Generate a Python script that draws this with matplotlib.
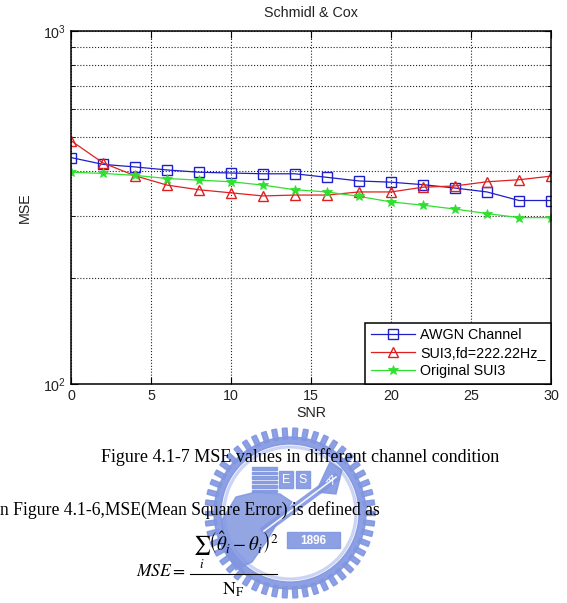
import numpy as np
import matplotlib
matplotlib.use("Agg")
import matplotlib.pyplot as plt
from matplotlib.patches import Wedge, Polygon, Rectangle
from matplotlib.ticker import LogLocator, NullFormatter, FixedLocator

plt.rcParams['font.family'] = ['Liberation Sans', 'DejaVu Sans']
plt.rcParams['mathtext.fontset'] = 'stix'

# ---- data ----
snr = [0, 2, 4, 6, 8, 10, 12, 14, 16, 18, 20, 22, 24, 26, 28, 30]
awgn = [438, 419, 412, 404, 398, 396, 394, 394, 385, 376, 373, 367, 359, 350, 331, 331]
sui3_fd = [489, 423, 389, 366, 355, 348, 341, 343, 343, 350, 350, 361, 364, 374, 379, 388]
orig_sui3 = [398, 395, 390, 382, 378, 374, 366, 355, 350, 340, 328, 321, 313, 304, 296, 296]
labels = ['AWGN Channel', 'SUI3,fd=222.22Hz_', 'Original SUI3']
xticks = [0, 5, 10, 15, 20, 25, 30]
title = 'Schmidl & Cox'
caption = 'Figure 4.1-7 MSE values in different channel condition'
body = 'n Figure 4.1-6,MSE(Mean Square Error) is defined as'

W, H = 567, 603
fig = plt.figure(figsize=(W / 100, H / 100), dpi=100)

# background overlay (pixel coordinates) for document text & watermark
bg = fig.add_axes([0, 0, 1, 1], zorder=-1)
bg.set_xlim(0, W)
bg.set_ylim(H, 0)
bg.axis('off')

# main chart
ax = fig.add_axes([71 / W, 1 - 384 / H, 480 / W, 353 / H])
ax.set_yscale('log')
ax.plot(snr, awgn, color='#1f1fc8', lw=0.9, marker='s', ms=7, mfc='none', mew=1.0, label=labels[0])
ax.plot(snr, sui3_fd, color='#e02020', lw=0.9, marker='^', ms=7.5, mfc='none', mew=1.0, label=labels[1])
ax.plot(snr, orig_sui3, color='#30e030', lw=0.9, marker='*', ms=7, mfc='#30e030', mew=0.6, label=labels[2])
ax.set_xlim(0, 30)
ax.set_ylim(100, 1000)
ax.set_xticks(xticks)
ax.yaxis.set_major_locator(FixedLocator([100, 1000]))
ax.yaxis.set_minor_locator(LogLocator(base=10, subs=np.arange(2, 10)))
ax.yaxis.set_minor_formatter(NullFormatter())
ax.grid(True, which='major', axis='x', ls=':', color='#222222', lw=0.8)
ax.grid(True, which='both', axis='y', ls=':', color='#222222', lw=0.8)
ax.tick_params(which='both', direction='in', top=True, right=True, labelsize=10.3, colors='black', labelcolor='#222222')
ax.tick_params(which='major', length=5)
ax.tick_params(which='minor', length=3)
for s in ax.spines.values():
    s.set_linewidth(1.1)
ax.set_title(title, fontsize=10.3, pad=10, color='#222222')
ax.set_xlabel('SNR', fontsize=10.3, labelpad=2, color='#222222')
ax.set_ylabel('MSE', fontsize=10.3, labelpad=8, color='#222222')
leg = ax.legend(loc='lower right', borderaxespad=0, fancybox=False, framealpha=1,
                edgecolor='black', fontsize=10.3, handlelength=3.1, handletextpad=0.35,
                labelspacing=0.28, borderpad=0.4, handleheight=0.7)
leg.get_frame().set_linewidth(1.1)

# ---- watermark (decorative) ----
wm = '#8196e0'
wm_light = '#b9c5f1'
cx, cy = 290, 513
bg.add_patch(Wedge((cx, cy), 76, 0, 360, width=7, color=wm, alpha=0.9, zorder=1))
for k in range(50):
    a = 2 * np.pi * k / 50
    t = np.array([np.cos(a), -np.sin(a)])
    n = np.array([-t[1], t[0]])
    r0, r1, hw = 74, 85, 2.4
    pts = [(cx + (r0 * t + hw * n)[0], cy + (r0 * t + hw * n)[1]),
           (cx + (r1 * t + hw * n)[0], cy + (r1 * t + hw * n)[1]),
           (cx + (r1 * t - hw * n)[0], cy + (r1 * t - hw * n)[1]),
           (cx + (r0 * t - hw * n)[0], cy + (r0 * t - hw * n)[1])]
    bg.add_patch(Polygon(pts, closed=True, color=wm, alpha=0.9, zorder=1))
bg.add_patch(Polygon([(222, 520), (236, 497), (256, 492), (280, 494), (292, 502), (278, 522),
                      (266, 542), (252, 562), (236, 570), (226, 552)], closed=True,
                     color=wm, alpha=0.85, zorder=1))
for i in range(6):
    bg.add_patch(Rectangle((252, 467 + i * 4.5), 25, 2.6, color=wm, alpha=0.9, zorder=1))
bg.add_patch(Rectangle((279, 471), 14, 17, color=wm, alpha=0.9, zorder=1))
bg.add_patch(Rectangle((296, 471), 14, 17, color=wm, alpha=0.9, zorder=1))
bg.text(286, 480, 'E', color='white', fontsize=9, ha='center', va='center', zorder=2)
bg.text(303, 480, 'S', color='white', fontsize=9, ha='center', va='center', zorder=2)
bg.add_patch(Polygon([(316, 492), (330, 462), (342, 470), (336, 494)], closed=True,
                     color=wm, alpha=0.9, zorder=1))
bg.text(330, 481, 'A', color='white', fontsize=9, ha='center', va='center', rotation=-20, zorder=2)
bg.plot([262, 338], [532, 476], color=wm, lw=6, alpha=0.9, solid_capstyle='butt', zorder=1)
bg.plot([264, 336], [531, 477], color='white', lw=1.2, alpha=0.9, zorder=1.5)
bg.add_patch(Rectangle((287, 532), 53, 16, color=wm, alpha=0.9, zorder=1))
bg.text(313.5, 540.5, '1896', color='white', fontsize=8.5, fontweight='bold',
        ha='center', va='center', zorder=2)
bg.add_patch(Wedge((cx, cy), 67, 0, 360, width=2, color=wm_light, alpha=0.6, zorder=0.9))

# ---- document text ----
fig.canvas.draw()
renderer = fig.canvas.get_renderer()


def fit(t, width_px):
    w = t.get_window_extent(renderer).width
    t.set_fontsize(t.get_fontsize() * width_px / w)


t1 = bg.text(300, 457, caption, family='Liberation Serif', fontsize=12, ha='center', va='center', zorder=5)
fit(t1, 398)
t2 = bg.text(0.5, 510, body, family='Liberation Serif', fontsize=12, ha='left', va='center', zorder=5)
fit(t2, 381)
t3 = bg.text(136, 572, r'$MSE=$', fontsize=12, ha='left', va='center', zorder=5)
fit(t3, 50)
bg.plot([190, 277], [574, 574], color='black', lw=0.8, zorder=5)
t4 = bg.text(193, 571, r'$\sum_{i}\left(\hat{\theta}_{i}-\theta_{i}\right)^{2}$', fontsize=14,
             ha='left', va='bottom', zorder=5)
fit(t4, 86)
t5 = bg.text(233, 590, r'$\mathrm{N}_{\mathrm{F}}$', fontsize=13, ha='center', va='center', zorder=5)

fig.savefig('out.png', dpi=100)
